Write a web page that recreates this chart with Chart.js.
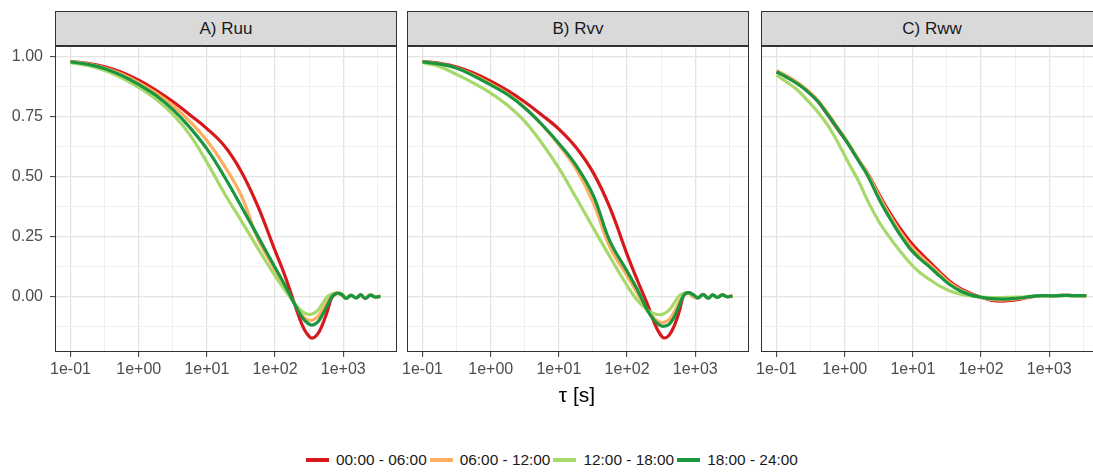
<!DOCTYPE html>
<html>
<head>
<meta charset="utf-8">
<script src="https://cdn.jsdelivr.net/npm/chart.js@4.4.1/dist/chart.umd.min.js"></script>
<style>
html, body { margin:0; padding:0; overflow:hidden; background:#fff; width:1093px; height:472px; }
body { position:relative; font-family:"Liberation Sans", Arial, sans-serif; }
canvas { position:absolute; top:46px; }
.strip { position:absolute; top:11px; width:342px; height:35px; box-sizing:border-box; border:1px solid #333; background:#d9d9d9; color:#1a1a1a; font-size:17px; line-height:33px; text-align:center; }
.xtitle { position:absolute; left:477px; width:200px; top:383px; text-align:center; font-size:21px; color:#000; }
.legend { position:absolute; left:306px; top:451px; display:flex; align-items:center; font-size:15.4px; color:#1a1a1a; line-height:18px; white-space:nowrap; }
.legend .key { display:inline-block; width:23px; height:4px; margin-right:7px; }
.legend .item { display:flex; align-items:center; margin-right:3px; }
</style>
</head>
<body>
<div class="strip" style="left:55px">A) Ruu</div>
<div class="strip" style="left:407px">B) Rvv</div>
<div class="strip" style="left:761px">C) Rww</div>
<canvas id="ruu" width="397" height="336" style="left:0px"></canvas>
<canvas id="rvv" width="372" height="336" style="left:377px"></canvas>
<canvas id="rww" width="372" height="336" style="left:731px"></canvas>
<div class="xtitle">τ [s]</div>
<div class="legend" id="legend"></div>
<script>
// time windows
const periods = ["00:00 - 06:00", "06:00 - 12:00", "12:00 - 18:00", "18:00 - 24:00"];
const colors = ["#d7191c", "#fdae61", "#a6d96a", "#1a9641"];

// lag times (s)
const tauAB = [0.1, 0.18, 0.32, 0.56, 1, 1.8, 3.2, 5.6, 10, 18, 32, 56, 100, 140, 200, 250, 300, 350, 420, 500, 580, 680, 800, 950, 1100, 1300, 1550, 1800, 2100, 2500, 2900, 3500];
const tauC = [0.1, 0.14, 0.2, 0.28, 0.4, 0.56, 0.8, 1.1, 1.6, 2.2, 3.2, 4.5, 6.3, 9, 12.5, 18, 25, 35, 50, 70, 100, 140, 200, 280, 400, 560, 800, 1100, 1600, 2200, 3500];

// A) Ruu
const ruu00 = [.980,.972,.958,.935,.902,.860,.812,.758,.700,.628,.520,.375,.190,.085,-.045,-.120,-.160,-.175,-.158,-.115,-.065,-.005,.012,.006,-.008,.004,-.006,.006,-.008,.005,-.002,.000];
const ruu06 = [.980,.970,.953,.928,.892,.848,.795,.730,.650,.545,.420,.240,.110,.040,-.040,-.080,-.098,-.100,-.085,-.055,-.025,.008,.015,.010,-.006,.005,-.007,.004,-.007,.006,-.001,.000];
const ruu12 = [.975,.963,.942,.912,.872,.822,.758,.675,.560,.430,.315,.200,.085,.025,-.035,-.063,-.075,-.074,-.060,-.030,-.002,.010,.012,.008,-.007,.004,-.008,.005,-.007,.006,-.002,.000];
const ruu18 = [.978,.968,.950,.922,.884,.838,.778,.705,.615,.500,.375,.250,.120,.045,-.040,-.088,-.112,-.120,-.108,-.075,-.040,-.002,.012,.008,-.009,.004,-.007,.006,-.009,.005,-.003,.000];

// B) Rvv
const rvv00 = [.980,.972,.957,.932,.898,.857,.810,.757,.698,.620,.515,.370,.175,.070,-.035,-.110,-.155,-.174,-.160,-.118,-.065,.005,.015,.005,-.006,.008,-.007,.005,-.004,.006,-.001,.002];
const rvv06 = [.980,.970,.953,.924,.886,.844,.786,.716,.632,.530,.390,.205,.085,.015,-.060,-.092,-.108,-.108,-.095,-.060,-.025,.005,.012,-.004,-.006,.006,-.007,.006,-.005,.005,-.001,.001];
const rvv12 = [.976,.958,.925,.890,.848,.795,.728,.640,.535,.410,.285,.165,.045,-.015,-.058,-.073,-.077,-.072,-.055,-.025,.002,.012,.012,.005,-.005,.006,-.008,.005,-.004,.005,-.001,.001];
const rvv18 = [.978,.969,.952,.920,.882,.840,.785,.718,.638,.545,.420,.230,.105,.030,-.060,-.100,-.120,-.125,-.115,-.082,-.040,.005,.015,.005,-.007,.007,-.008,.006,-.005,.006,-.002,.001];

// C) Rww
const rww00 = [.937,.916,.889,.858,.815,.758,.695,.640,.568,.510,.425,.352,.288,.230,.185,.140,.100,.062,.032,.012,-.004,-.016,-.020,-.017,-.010,-.002,.003,.002,.004,.003,.003];
const rww06 = [.942,.921,.894,.862,.820,.765,.702,.645,.570,.508,.418,.342,.275,.215,.172,.130,.092,.055,.027,.009,-.005,-.013,-.016,-.013,-.008,-.001,.003,.002,.004,.003,.003];
const rww12 = [.923,.895,.862,.820,.770,.715,.640,.565,.480,.395,.310,.248,.193,.140,.100,.068,.042,.022,.009,.002,-.003,-.005,-.005,-.004,-.003,.000,.002,.001,.003,.002,.002];
const rww18 = [.937,.915,.888,.857,.815,.760,.698,.640,.565,.500,.405,.330,.262,.200,.158,.120,.083,.048,.022,.006,-.004,-.010,-.012,-.010,-.006,.000,.003,.002,.004,.003,.003];

// axes
const xTicks = [0.1, 0.3162, 1, 3.162, 10, 31.62, 100, 316.2, 1000, 3162];
const xTickLabels = ["1e-01", "", "1e+00", "", "1e+01", "", "1e+02", "", "1e+03", ""];
const yTicks = [-0.125, 0, 0.125, 0.25, 0.375, 0.5, 0.625, 0.75, 0.875, 1];
const yTickLabels = ["", "0.00", "", "0.25", "", "0.50", "", "0.75", "", "1.00"];
const xMin = 0.0592, xMax = 6140;
const yMin = -0.2325, yMax = 1.0446;

const panelBorder = {
  id: "panelBorder",
  afterDatasetsDraw(chart) {
    const a = chart.chartArea, c = chart.ctx;
    c.save();
    c.strokeStyle = "#333";
    c.lineWidth = 1;
    c.strokeRect(a.left + 0.5, a.top + 0.5, a.right - a.left - 1, a.bottom - a.top - 1);
    c.restore();
  }
};

function gridColor(labels) {
  return ctx => labels[ctx.index] ? "#e4e4e4" : "#efefef";
}
function gridWidth(labels) {
  return ctx => labels[ctx.index] ? 1.3 : 1;
}

function makePanel(id, tau, series, showY, yWidth) {
  new Chart(document.getElementById(id), {
    type: "line",
    data: {
      datasets: series.map((vals, i) => ({
        label: periods[i],
        data: tau.map((t, j) => ({ x: t, y: vals[j] })),
        borderColor: colors[i],
        borderWidth: 3.2,
        pointRadius: 0,
        fill: false,
        tension: 0.4,
        order: 4 - i
      }))
    },
    options: {
      responsive: false,
      animation: false,
      events: [],
      layout: { padding: 0 },
      plugins: { legend: { display: false }, tooltip: { enabled: false } },
      scales: {
        x: {
          type: "logarithmic",
          min: xMin,
          max: xMax,
          bounds: "data",
          afterBuildTicks: s => { s.ticks = xTicks.map(v => ({ value: v })); },
          afterFit: s => { s.height = 30; s.paddingLeft = 0; s.paddingRight = 0; },
          border: { display: false },
          grid: {
            color: gridColor(xTickLabels),
            lineWidth: gridWidth(xTickLabels),
            tickLength: 5,
            tickColor: ctx => xTickLabels[ctx.index] ? "#333" : "rgba(0,0,0,0)",
            tickWidth: 1
          },
          ticks: {
            autoSkip: false,
            maxRotation: 0,
            padding: 3,
            color: "#4d4d4d",
            font: { family: "Liberation Sans", size: 16 },
            callback: (v, i) => xTickLabels[i]
          }
        },
        y: {
          type: "linear",
          min: yMin,
          max: yMax,
          afterBuildTicks: s => { s.ticks = yTicks.map(v => ({ value: v })); },
          afterFit: s => { s.width = yWidth; s.paddingTop = 0; s.paddingBottom = 0; },
          border: { display: false },
          grid: {
            color: gridColor(yTickLabels),
            lineWidth: gridWidth(yTickLabels),
            drawTicks: showY,
            tickLength: showY ? 5 : 0,
            tickColor: ctx => yTickLabels[ctx.index] ? "#333" : "rgba(0,0,0,0)",
            tickWidth: 1
          },
          ticks: {
            display: showY,
            autoSkip: false,
            padding: 7,
            color: "#4d4d4d",
            font: { family: "Liberation Sans", size: 16 },
            callback: (v, i) => yTickLabels[i]
          }
        }
      }
    },
    plugins: [panelBorder]
  });
}

makePanel("ruu", tauAB, [ruu00, ruu06, ruu12, ruu18], true, 55);
makePanel("rvv", tauAB, [rvv00, rvv06, rvv12, rvv18], false, 30);
makePanel("rww", tauC, [rww00, rww06, rww12, rww18], false, 30);

// legend
const legend = document.getElementById("legend");
periods.forEach((p, i) => {
  const item = document.createElement("span");
  item.className = "item";
  item.innerHTML = `<span class="key" style="background:${colors[i]}"></span>${p}`;
  legend.appendChild(item);
});
</script>
</body>
</html>
